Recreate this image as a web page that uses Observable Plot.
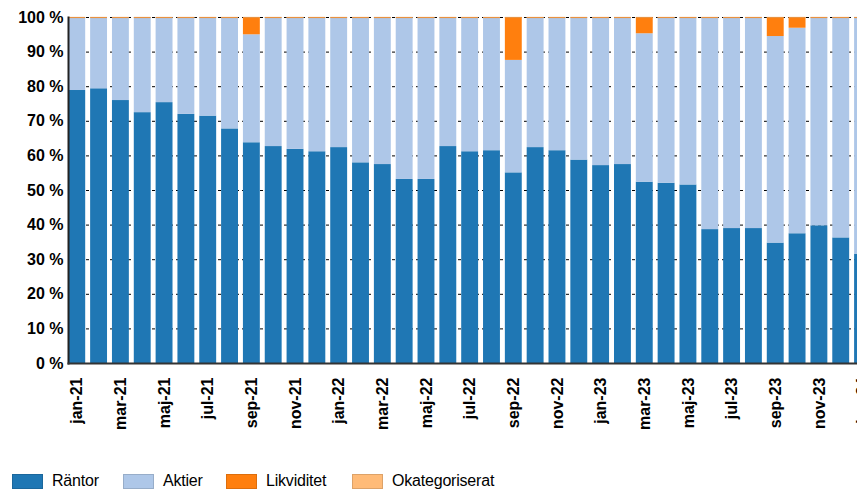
<!DOCTYPE html>
<html>
<head>
<meta charset="utf-8">
<script src="https://cdn.jsdelivr.net/npm/d3@7"></script>
<script src="https://cdn.jsdelivr.net/npm/@observablehq/plot@0.6"></script>
<style>
  html, body { margin: 0; padding: 0; background: #fff; overflow: hidden; }
  body { width: 857px; height: 490px; font-family: "Liberation Sans", Arial, sans-serif; }
  #legend { position: relative; height: 50px; }
  .item { position: absolute; top: 32px; display: flex; align-items: center; font-size: 16px; color: #000; letter-spacing: -0.2px; }
  .sw { width: 31px; height: 15px; box-sizing: border-box; margin-right: 9px; }
</style>
</head>
<body>
<div id="chart"></div>
<div id="legend"></div>
<script>
const months = ["jan-21","feb-21","mar-21","apr-21","maj-21","jun-21","jul-21","aug-21","sep-21","okt-21","nov-21","dec-21",
                "jan-22","feb-22","mar-22","apr-22","maj-22","jun-22","jul-22","aug-22","sep-22","okt-22","nov-22","dec-22",
                "jan-23","feb-23","mar-23","apr-23","maj-23","jun-23","jul-23","aug-23","sep-23","okt-23","nov-23","dec-23",
                "jan-24"];
const tickLabels = ["jan-21","mar-21","maj-21","jul-21","sep-21","nov-21","jan-22","mar-22","maj-22","jul-22","sep-22","nov-22",
                    "jan-23","mar-23","maj-23","jul-23","sep-23","nov-23","jan-24"];
const rantor = [78.9,79.4,76.0,72.5,75.4,72.0,71.5,67.8,63.8,62.7,61.9,61.2,
                62.4,58.0,57.5,53.2,53.2,62.7,61.2,61.5,55.1,62.4,61.5,58.8,
                57.2,57.5,52.4,52.1,51.6,38.7,39.0,39.0,34.8,37.5,39.8,36.3,
                31.6];
const aktier = [21.1,20.6,24.0,27.5,24.6,28.0,28.5,32.2,31.2,37.3,38.1,38.8,
                37.6,42.0,42.5,46.8,46.8,37.3,38.8,38.5,32.5,37.6,38.5,41.2,
                42.8,42.5,42.9,47.9,48.4,61.3,61.0,61.0,59.7,59.4,60.2,63.7,
                68.4];
const likviditet = [0,0,0,0,0,0,0,0,5.0,0,0,0,
                    0,0,0,0,0,0,0,0,12.4,0,0,0,
                    0,0,4.7,0,0,0,0,0,5.5,3.1,0,0,
                    0];
const okategoriserat = [0,0,0,0,0,0,0,0,0,0,0,0,
                        0,0,0,0,0,0,0,0,0,0,0,0,
                        0,0,0,0,0,0,0,0,0,0,0,0,
                        0];
const seriesNames = ["Räntor","Aktier","Likviditet","Okategoriserat"];
const seriesColors = ["#1f77b4","#aec7e8","#ff7f0e","#ffbb78"];
const yTicks = [0,10,20,30,40,50,60,70,80,90,100];

const seriesValues = [rantor, aktier, likviditet, okategoriserat];
const data = [];
months.forEach((m, i) => {
  seriesNames.forEach((s, j) => data.push({month: m, series: s, value: seriesValues[j][i]}));
});
const tops = months.map(m => ({month: m, top: 100}));

const chart = Plot.plot({
  width: 857,
  height: 440,
  marginLeft: 68,
  marginRight: 0,
  marginTop: 17,
  marginBottom: 77,
  style: {fontFamily: "'Liberation Sans', Arial, sans-serif", color: "#000", background: "#fff"},
  x: {domain: months, range: [68.3, 871], paddingInner: 0.226, paddingOuter: 0, align: 0},
  y: {domain: [0, 100]},
  color: {domain: seriesNames, range: seriesColors},
  marks: [
    Plot.ruleY(yTicks, {stroke: "#000", strokeWidth: 1, strokeDasharray: "3,3"}),
    Plot.barY(data, {x: "month", y: "value", fill: "series", order: null, inset: 0}),
    Plot.tickY(tops, {x: "month", y: "top", stroke: "#e8913f", strokeWidth: 1.2}),
    Plot.axisY({ticks: yTicks, tickFormat: d => d + " %", tickSize: 0, tickPadding: 5, fontSize: 16, fontWeight: "bold", label: null}),
    Plot.axisX({ticks: tickLabels, tickRotate: -90, tickSize: 0, tickPadding: 14, fontSize: 16, fontWeight: "bold", label: null}),
    Plot.frame({anchor: "left", stroke: "#222", strokeWidth: 2}),
    Plot.frame({anchor: "bottom", stroke: "#333", strokeWidth: 2})
  ]
});
document.getElementById("chart").appendChild(chart);

const legend = document.getElementById("legend");
const legendX = [12, 123, 226, 352];
seriesNames.forEach((s, i) => {
  const item = document.createElement("div");
  item.className = "item";
  item.style.left = legendX[i] + "px";
  const sw = document.createElement("div");
  sw.className = "sw";
  sw.style.background = seriesColors[i];
  sw.style.border = "1px solid " + d3.color(seriesColors[i]).darker(0.4);
  const t = document.createElement("span");
  t.textContent = s;
  item.appendChild(sw);
  item.appendChild(t);
  legend.appendChild(item);
});
</script>
</body>
</html>
